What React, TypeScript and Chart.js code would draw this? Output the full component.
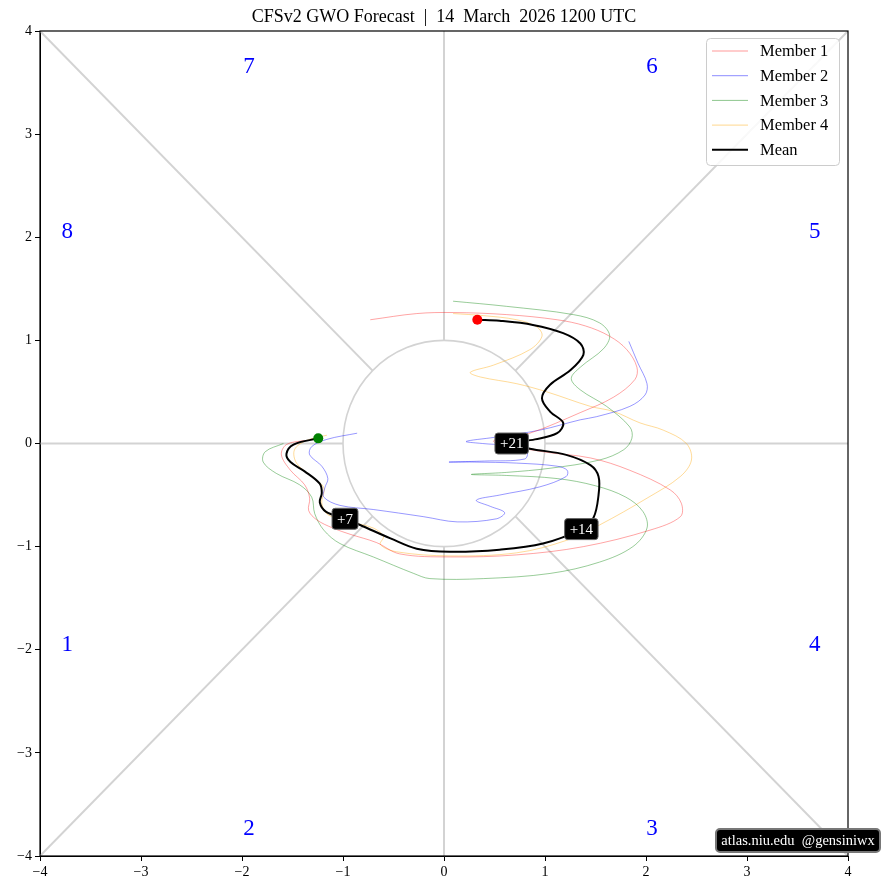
import { useEffect, useRef } from 'react';
import { Chart, registerables } from 'chart.js';

Chart.register(...registerables);

const FONT = '"Liberation Serif", "DejaVu Serif", serif';
const TITLE = 'CFSv2 GWO Forecast  |  14  March  2026 1200 UTC';
const WATERMARK = 'atlas.niu.edu  @gensiniwx';

const AXIS_TICKS = [-4, -3, -2, -1, 0, 1, 2, 3, 4];

// Ensemble mean trajectory
const meanX = [-1.245, -1.49, -1.56, -1.52, -1.38, -1.23, -1.21, -1.23, -1.17, -0.98, -0.83, -0.53, -0.27, 0.06, 0.55, 0.98, 1.36, 1.48, 1.53, 1.53, 1.45, 1.21, 0.85, 0.67, 0.9, 1.12, 1.18, 1.05, 0.97, 1.05, 1.25, 1.38, 1.35, 1.18, 0.88, 0.55, 0.33];
const meanY = [0.05, -0.01, -0.1, -0.18, -0.27, -0.39, -0.48, -0.57, -0.66, -0.73, -0.79, -0.92, -1.02, -1.05, -1.03, -0.97, -0.83, -0.72, -0.5, -0.32, -0.21, -0.11, -0.05, 0.0, 0.04, 0.1, 0.2, 0.31, 0.44, 0.57, 0.71, 0.86, 0.97, 1.07, 1.15, 1.19, 1.2];
const dayLabels = ['+7', '+14', '+21'];
const dayIndex = [9, 16, 23];

// Members
const m1X = [-1.38, -1.56, -1.61, -1.52, -1.38, -1.33, -1.34, -1.26, -1.1, -0.93, -0.67, -0.44, 0.06, 0.72, 1.38, 2.04, 2.34, 2.35, 2.24, 1.84, 1.45, 0.98, 0.49, 0.85, 1.35, 1.68, 1.89, 1.91, 1.81, 1.64, 1.4, 1.12, 0.62, 0.09, -0.27, -0.73];
const m1Y = [0.03, -0.01, -0.11, -0.26, -0.4, -0.53, -0.65, -0.74, -0.82, -0.88, -0.96, -1.07, -1.1, -1.08, -1.0, -0.84, -0.71, -0.58, -0.45, -0.26, -0.14, -0.08, 0.02, 0.1, 0.3, 0.45, 0.62, 0.74, 0.91, 1.04, 1.14, 1.2, 1.25, 1.27, 1.26, 1.2];

const m2X = [-0.86, -1.16, -1.31, -1.33, -1.21, -1.15, -1.18, -1.19, -1.03, -0.7, -0.2, 0.13, 0.52, 0.6, 0.46, 0.32, 0.55, 0.95, 1.21, 1.22, 1.12, 0.72, 0.3, 0.05, 0.4, 0.8, 0.82, 0.6, 0.38, 0.22, 0.5, 0.95, 1.35, 1.51, 1.84, 1.99, 2.01, 1.92, 1.83];
const m2Y = [0.1, 0.04, -0.03, -0.11, -0.22, -0.34, -0.43, -0.52, -0.6, -0.64, -0.71, -0.76, -0.73, -0.67, -0.61, -0.55, -0.5, -0.42, -0.32, -0.26, -0.22, -0.19, -0.18, -0.18, -0.17, -0.15, -0.08, -0.02, 0.0, 0.02, 0.06, 0.13, 0.23, 0.26, 0.36, 0.47, 0.58, 0.78, 0.99];

const m3X = [-1.59, -1.77, -1.79, -1.66, -1.43, -1.31, -1.28, -1.19, -1.03, -0.7, -0.3, -0.14, 0.39, 1.05, 1.54, 1.87, 2.01, 1.97, 1.8, 1.5, 1.12, 0.62, 0.27, 0.62, 1.05, 1.54, 1.78, 1.86, 1.84, 1.61, 1.35, 1.26, 1.35, 1.58, 1.64, 1.54, 1.28, 0.62, 0.09];
const m3Y = [0.0, -0.08, -0.18, -0.29, -0.4, -0.52, -0.68, -0.84, -0.97, -1.1, -1.26, -1.31, -1.31, -1.26, -1.15, -1.0, -0.82, -0.66, -0.52, -0.41, -0.34, -0.31, -0.3, -0.28, -0.24, -0.16, -0.06, 0.05, 0.16, 0.36, 0.52, 0.63, 0.74, 0.92, 1.05, 1.17, 1.25, 1.33, 1.38];

const m4X = [-1.16, -1.36, -1.48, -1.46, -1.31, -1.19, -1.21, -1.15, -0.93, -0.7, -0.6, -0.63, -0.47, 0.06, 0.72, 1.21, 1.54, 2.01, 2.34, 2.45, 2.4, 2.17, 1.94, 1.68, 1.45, 1.02, 0.72, 0.36, 0.26, 0.49, 0.85, 0.97, 0.92, 0.72, 0.39, 0.09];
const m4Y = [0.08, 0.03, -0.06, -0.19, -0.32, -0.43, -0.58, -0.69, -0.76, -0.82, -0.9, -0.98, -1.05, -1.09, -1.06, -0.94, -0.79, -0.53, -0.32, -0.16, 0.0, 0.13, 0.2, 0.31, 0.36, 0.5, 0.58, 0.645, 0.69, 0.76, 0.91, 1.04, 1.13, 1.2, 1.24, 1.26];

const memberNames = ['Member 1', 'Member 2', 'Member 3', 'Member 4'];
const memberColors = ['rgba(255,0,0,0.4)', 'rgba(0,0,255,0.45)', 'rgba(0,128,0,0.45)', 'rgba(255,165,0,0.45)'];

// Phase diagram rays (from unit circle to frame edge)
const rayStartX = [1, 0.7071, 0, -0.7071, -1, -0.7071, 0, 0.7071];
const rayStartY = [0, 0.7071, 1, 0.7071, 0, -0.7071, -1, -0.7071];
const rayEndX = [4, 4, 0, -4, -4, -4, 0, 4];
const rayEndY = [0, 4, 4, 4, 0, -4, -4, -4];

// Phase numbers
const phaseNums = ['1', '2', '3', '4', '5', '6', '7', '8'];
const phaseX = [-3.73, -1.93, 2.06, 3.67, 3.67, 2.06, -1.93, -3.73];
const phaseY = [-1.95, -3.74, -3.74, -1.95, 2.05, 3.65, 3.65, 2.05];

const toPts = (xs: number[], ys: number[]) => xs.map((x, i) => ({ x, y: ys[i] }));

const overlay = {
  id: 'overlay',
  beforeDatasetsDraw(chart: any) {
    const { ctx, chartArea, scales } = chart;
    const x = scales.x, y = scales.y;
    const cx = x.getPixelForValue(0), cy = y.getPixelForValue(0);
    const rx = x.getPixelForValue(1) - cx, ry = cy - y.getPixelForValue(1);
    ctx.save();
    ctx.beginPath();
    ctx.rect(chartArea.left, chartArea.top, chartArea.right - chartArea.left, chartArea.bottom - chartArea.top);
    ctx.clip();
    ctx.strokeStyle = '#d3d3d3';
    ctx.lineWidth = 1.6;
    ctx.beginPath();
    ctx.ellipse(cx, cy, rx, ry, 0, 0, Math.PI * 2);
    ctx.stroke();
    ctx.restore();
  },
  afterDatasetsDraw(chart: any) {
    const { ctx, scales } = chart;
    const x = scales.x, y = scales.y;
    ctx.save();
    // phase numbers
    ctx.fillStyle = '#0000ff';
    ctx.font = `23px ${FONT}`;
    ctx.textAlign = 'center';
    ctx.textBaseline = 'middle';
    phaseNums.forEach((t, i) => {
      ctx.fillText(t, x.getPixelForValue(phaseX[i]), y.getPixelForValue(phaseY[i]));
    });
    // day labels
    ctx.font = `15px ${FONT}`;
    dayLabels.forEach((t, i) => {
      const k = dayIndex[i];
      const px = x.getPixelForValue(meanX[k]);
      const py = y.getPixelForValue(meanY[k]);
      const w = ctx.measureText(t).width + 10;
      const h = 21;
      ctx.beginPath();
      ctx.roundRect(px - w / 2, py - h / 2, w, h, 3);
      ctx.fillStyle = '#000';
      ctx.fill();
      ctx.strokeStyle = '#666';
      ctx.lineWidth = 1;
      ctx.stroke();
      ctx.fillStyle = '#fff';
      ctx.fillText(t, px, py + 1);
    });
    ctx.restore();
  },
  afterDraw(chart: any) {
    const { ctx, chartArea } = chart;
    const { left, right, top, bottom } = chartArea;
    ctx.save();
    // frame
    ctx.strokeStyle = '#000';
    ctx.lineWidth = 1.2;
    ctx.strokeRect(left, top, right - left, bottom - top);
    // title
    ctx.fillStyle = '#000';
    ctx.font = `18px ${FONT}`;
    ctx.textAlign = 'center';
    ctx.textBaseline = 'middle';
    ctx.fillText(TITLE, (left + right) / 2, top - 14);
    // legend
    const lx = right - 142, ly = top + 7, lw = 133, lh = 127;
    ctx.beginPath();
    ctx.roundRect(lx + 0.5, ly + 0.5, lw, lh, 4);
    ctx.fillStyle = 'rgba(255,255,255,0.85)';
    ctx.fill();
    ctx.strokeStyle = '#cccccc';
    ctx.lineWidth = 1;
    ctx.stroke();
    const names = [...memberNames, 'Mean'];
    const cols = [...memberColors, '#000'];
    const widths = [1, 1, 1, 1, 2];
    ctx.textAlign = 'left';
    ctx.font = `16.5px ${FONT}`;
    names.forEach((n, i) => {
      const ry = ly + 13 + i * 24.7;
      ctx.beginPath();
      ctx.moveTo(lx + 6, ry);
      ctx.lineTo(lx + 42, ry);
      ctx.strokeStyle = cols[i];
      ctx.lineWidth = widths[i];
      ctx.stroke();
      ctx.fillStyle = '#000';
      ctx.fillText(n, lx + 54, ry + 1);
    });
    // watermark
    ctx.font = `14.5px ${FONT}`;
    const ww = 164, wh = 23;
    const wx = right - 132, wy = bottom - 27;
    ctx.beginPath();
    ctx.roundRect(wx, wy, ww, wh, 4);
    ctx.fillStyle = '#000';
    ctx.fill();
    ctx.strokeStyle = '#777';
    ctx.stroke();
    ctx.fillStyle = '#fff';
    ctx.textAlign = 'center';
    ctx.fillText(WATERMARK, wx + ww / 2, wy + wh / 2 + 1);
    ctx.restore();
  },
};

export default function App() {
  const ref = useRef<HTMLCanvasElement>(null);
  useEffect(() => {
    if (!ref.current) return;
    const memberSets = [toPts(m1X, m1Y), toPts(m2X, m2Y), toPts(m3X, m3Y), toPts(m4X, m4Y)].map((d, i) => ({
      label: memberNames[i],
      data: d,
      showLine: true,
      borderColor: memberColors[i],
      borderWidth: 0.9,
      pointRadius: 0,
      tension: 0.35,
      order: 2 + i,
    }));
    const raySets = rayStartX.map((sx, i) => ({
      label: 'ray' + i,
      data: [{ x: sx, y: rayStartY[i] }, { x: rayEndX[i], y: rayEndY[i] }],
      showLine: true,
      borderColor: '#d3d3d3',
      borderWidth: 2,
      pointRadius: 0,
      order: 20,
    }));
    const n = meanX.length;
    const chart = new Chart(ref.current, {
      type: 'scatter',
      data: {
        datasets: [
          {
            label: 'Mean',
            data: toPts(meanX, meanY),
            showLine: true,
            borderColor: '#000',
            borderWidth: 2,
            tension: 0.35,
            pointRadius: (c: any) => (c.dataIndex === 0 || c.dataIndex === n - 1 ? 5 : 0),
            pointBackgroundColor: (c: any) => (c.dataIndex === 0 ? 'green' : 'red'),
            pointBorderWidth: 0,
            order: 0,
          } as any,
          ...memberSets,
          ...raySets,
        ],
      },
      options: {
        responsive: false,
        animation: false,
        devicePixelRatio: 1,
        layout: { padding: { top: 31, right: 33, left: 0, bottom: 0 } },
        plugins: { legend: { display: false }, tooltip: { enabled: false }, title: { display: false } },
        scales: {
          x: {
            type: 'linear',
            min: -4,
            max: 4,
            afterBuildTicks: (s: any) => { s.ticks = AXIS_TICKS.map((v) => ({ value: v })); },
            afterFit: (s: any) => { s.height = 34; },
            ticks: {
              color: '#000',
              font: { family: FONT, size: 14 },
              padding: 3,
              maxRotation: 0,
              callback: (v: any) => (v < 0 ? '\u2212' + Math.abs(v) : String(v)),
            },
            grid: { drawOnChartArea: false, drawTicks: true, tickLength: 5, color: '#000' },
            border: { color: '#000', width: 1 },
          },
          y: {
            type: 'linear',
            min: -4,
            max: 4,
            afterBuildTicks: (s: any) => { s.ticks = AXIS_TICKS.map((v) => ({ value: v })); },
            afterFit: (s: any) => { s.width = 40; },
            ticks: {
              color: '#000',
              font: { family: FONT, size: 14 },
              padding: 3,
              callback: (v: any) => (v < 0 ? '\u2212' + Math.abs(v) : String(v)),
            },
            grid: { drawOnChartArea: false, drawTicks: true, tickLength: 5, color: '#000' },
            border: { color: '#000', width: 1 },
          },
        },
      },
      plugins: [overlay],
    } as any);
    return () => chart.destroy();
  }, []);
  return (
    <div style={{ position: 'absolute', left: 0, top: 0, width: 881, height: 890, background: '#fff' }}>
      <canvas ref={ref} width={881} height={890} style={{ width: 881, height: 890 }} />
    </div>
  );
}
